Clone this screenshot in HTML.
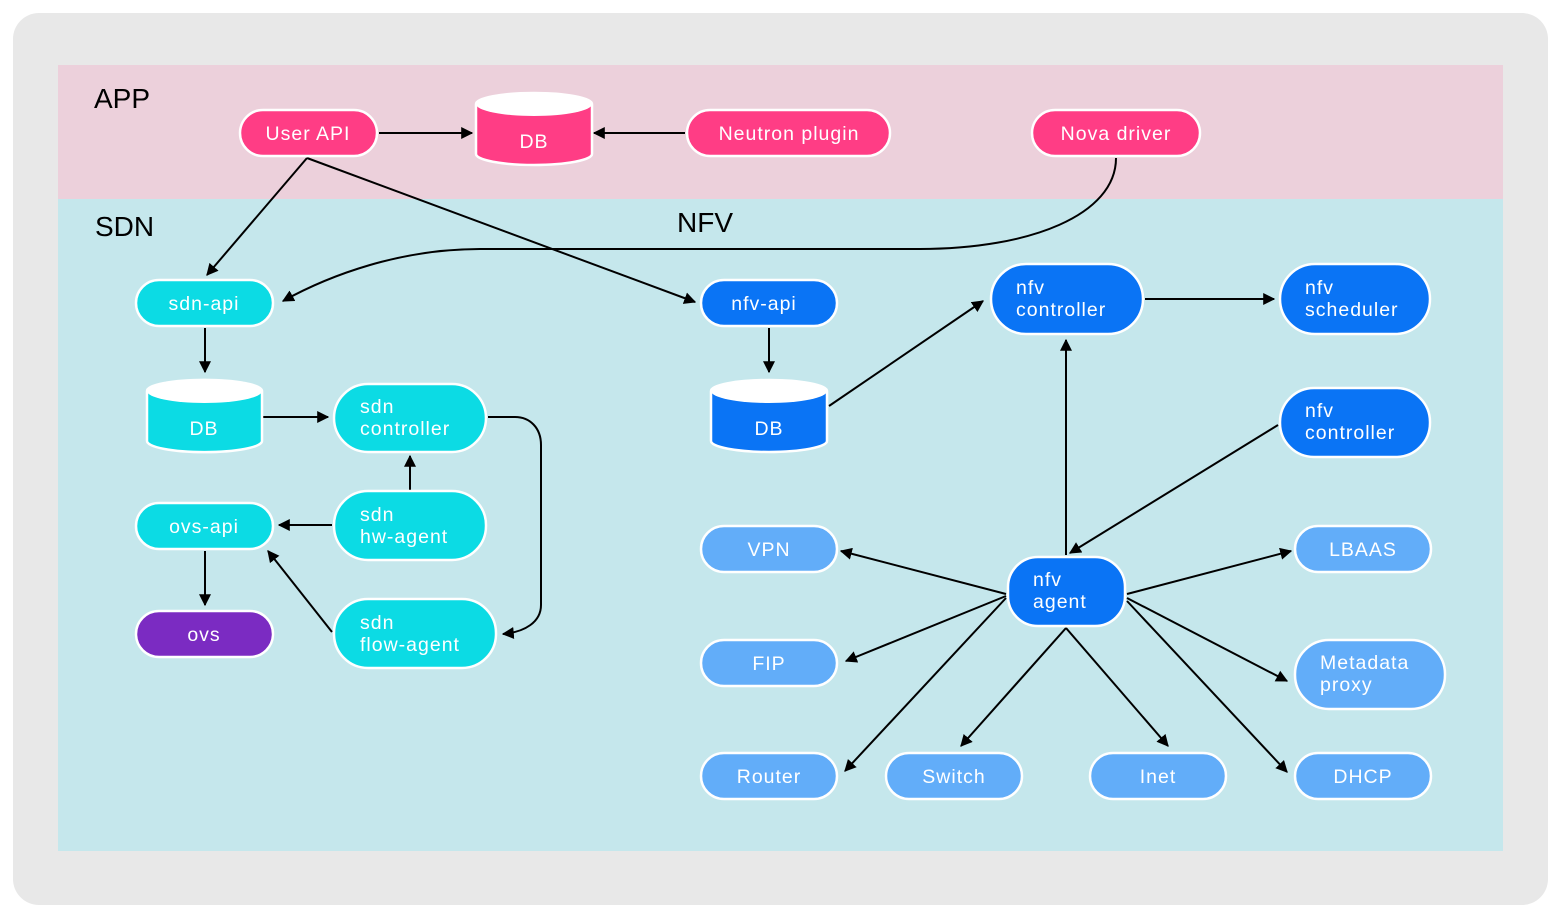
<!DOCTYPE html>
<html><head><meta charset="utf-8"><style>
html,body{margin:0;padding:0;background:#fff;width:1560px;height:916px;overflow:hidden}
text{font-family:"Liberation Sans","DejaVu Sans",sans-serif;}
.t{fill:#fff;font-size:19.5px;letter-spacing:1px}
.h{fill:#000;font-size:28px}
.n{stroke:#fff;stroke-width:2.5}
.e{stroke:#000;stroke-width:2;fill:none}
</style></head><body>
<svg width="1560" height="916" viewBox="0 0 1560 916" xmlns="http://www.w3.org/2000/svg">
<defs>
<marker id="a" viewBox="0 0 10 10" refX="9" refY="5" markerWidth="6" markerHeight="6" orient="auto" markerUnits="strokeWidth"><path d="M0,0 L10,5 L0,10 z" fill="#000"/></marker>
</defs>
<rect x="13" y="13" width="1535" height="892" rx="26" fill="#e8e8e8"/>
<rect x="58" y="65" width="1445" height="134" fill="#ecd0db"/>
<rect x="58" y="199" width="1445" height="652" fill="#c5e7ec"/>
<text class="h" x="94" y="108">APP</text>
<text class="h" x="95" y="236">SDN</text>
<text class="h" x="677" y="232">NFV</text>

<g class="e" marker-end="url(#a)">
<line x1="379" y1="133" x2="472" y2="133"/>
<line x1="685" y1="133" x2="594" y2="133"/>
<line x1="307" y1="158" x2="207" y2="275"/>
<line x1="307" y1="158" x2="695" y2="302"/>
<path d="M1116,158 C1116,215 1030,249 920,249 L480,249 C400,249 330,275 283,301"/>
<line x1="205" y1="328" x2="205" y2="372"/>
<line x1="263" y1="417" x2="328" y2="417"/>
<path d="M488,417 L515,417 C530,417 541,428 541,445 L541,605 C541,622 525,632 503,634"/>
<line x1="410" y1="490" x2="410" y2="456"/>
<line x1="332" y1="525" x2="279" y2="525"/>
<line x1="205" y1="551" x2="205" y2="605"/>
<line x1="332" y1="632" x2="268" y2="551"/>
<line x1="769" y1="328" x2="769" y2="372"/>
<line x1="829" y1="406" x2="983" y2="301"/>
<line x1="1145" y1="299" x2="1274" y2="299"/>
<line x1="1066" y1="555" x2="1066" y2="340"/>
<line x1="1278" y1="425" x2="1070" y2="553"/>
<line x1="1006" y1="594" x2="841" y2="551"/>
<line x1="1006" y1="596" x2="846" y2="661"/>
<line x1="1006" y1="598" x2="845" y2="771"/>
<line x1="1066" y1="628" x2="961" y2="746"/>
<line x1="1066" y1="628" x2="1168" y2="746"/>
<line x1="1127" y1="594" x2="1291" y2="551"/>
<line x1="1127" y1="598" x2="1287" y2="681"/>
<line x1="1127" y1="601" x2="1287" y2="772"/>
</g>

<g fill="#ff3d85">
<rect class="n" x="240" y="110" width="137" height="46" rx="23"/>
<rect class="n" x="687" y="110" width="203" height="46" rx="23"/>
<rect class="n" x="1032" y="110" width="168" height="46" rx="23"/>
<path class="n" d="M476,104 L476,154 A58,11 0 0 0 592,154 L592,104 A58,11 0 0 0 476,104 Z"/>
<ellipse cx="534" cy="104" rx="58" ry="12" fill="#fff"/>
</g>
<text class="t" x="308" y="140" text-anchor="middle">User API</text>
<text class="t" x="789" y="140" text-anchor="middle">Neutron plugin</text>
<text class="t" x="1116" y="140" text-anchor="middle">Nova driver</text>
<text class="t" x="534" y="148" text-anchor="middle">DB</text>

<g fill="#0cdbe4">
<rect class="n" x="136" y="280" width="137" height="46" rx="23"/>
<rect class="n" x="334" y="384" width="152" height="68" rx="34"/>
<rect class="n" x="136" y="503" width="137" height="46" rx="23"/>
<rect class="n" x="334" y="491" width="152" height="69" rx="34"/>
<rect class="n" x="334" y="599" width="162" height="69" rx="34"/>
<path class="n" d="M147,391 L147,441 A57,11 0 0 0 262,441 L262,391 A57,11 0 0 0 147,391 Z"/>
<ellipse cx="204.5" cy="391" rx="57.5" ry="12" fill="#fff"/>
</g>
<rect class="n" x="136" y="611" width="137" height="46" rx="23" fill="#7b2bc2"/>
<text class="t" x="204" y="310" text-anchor="middle">sdn-api</text>
<text class="t" x="204" y="435" text-anchor="middle">DB</text>
<text class="t" x="360" y="413">sdn</text><text class="t" x="360" y="435">controller</text>
<text class="t" x="204" y="533" text-anchor="middle">ovs-api</text>
<text class="t" x="360" y="521">sdn</text><text class="t" x="360" y="543">hw-agent</text>
<text class="t" x="204" y="641" text-anchor="middle">ovs</text>
<text class="t" x="360" y="629">sdn</text><text class="t" x="360" y="651">flow-agent</text>

<g fill="#0a74f5">
<rect class="n" x="701" y="280" width="136" height="46" rx="23"/>
<rect class="n" x="991" y="264" width="152" height="70" rx="35"/>
<rect class="n" x="1280" y="264" width="150" height="70" rx="35"/>
<rect class="n" x="1280" y="388" width="150" height="69" rx="34"/>
<rect class="n" x="1008" y="557" width="117" height="69" rx="30"/>
<path class="n" d="M711,391 L711,441 A58,11 0 0 0 827,441 L827,391 A58,11 0 0 0 711,391 Z"/>
<ellipse cx="769" cy="391" rx="58" ry="12" fill="#fff"/>
</g>
<text class="t" x="764" y="310" text-anchor="middle">nfv-api</text>
<text class="t" x="769" y="435" text-anchor="middle">DB</text>
<text class="t" x="1016" y="294">nfv</text><text class="t" x="1016" y="316">controller</text>
<text class="t" x="1305" y="294">nfv</text><text class="t" x="1305" y="316">scheduler</text>
<text class="t" x="1305" y="417">nfv</text><text class="t" x="1305" y="439">controller</text>
<text class="t" x="1033" y="586">nfv</text><text class="t" x="1033" y="608">agent</text>

<g fill="#62adf9">
<rect class="n" x="701" y="526" width="136" height="46" rx="23"/>
<rect class="n" x="701" y="640" width="136" height="46" rx="23"/>
<rect class="n" x="701" y="753" width="136" height="46" rx="23"/>
<rect class="n" x="886" y="753" width="136" height="46" rx="23"/>
<rect class="n" x="1090" y="753" width="136" height="46" rx="23"/>
<rect class="n" x="1295" y="526" width="136" height="46" rx="23"/>
<rect class="n" x="1295" y="640" width="150" height="69" rx="34"/>
<rect class="n" x="1295" y="753" width="136" height="46" rx="23"/>
</g>
<text class="t" x="769" y="556" text-anchor="middle">VPN</text>
<text class="t" x="769" y="670" text-anchor="middle">FIP</text>
<text class="t" x="769" y="783" text-anchor="middle">Router</text>
<text class="t" x="954" y="783" text-anchor="middle">Switch</text>
<text class="t" x="1158" y="783" text-anchor="middle">Inet</text>
<text class="t" x="1363" y="556" text-anchor="middle">LBAAS</text>
<text class="t" x="1320" y="669">Metadata</text><text class="t" x="1320" y="691">proxy</text>
<text class="t" x="1363" y="783" text-anchor="middle">DHCP</text>
</svg>
</body></html>
